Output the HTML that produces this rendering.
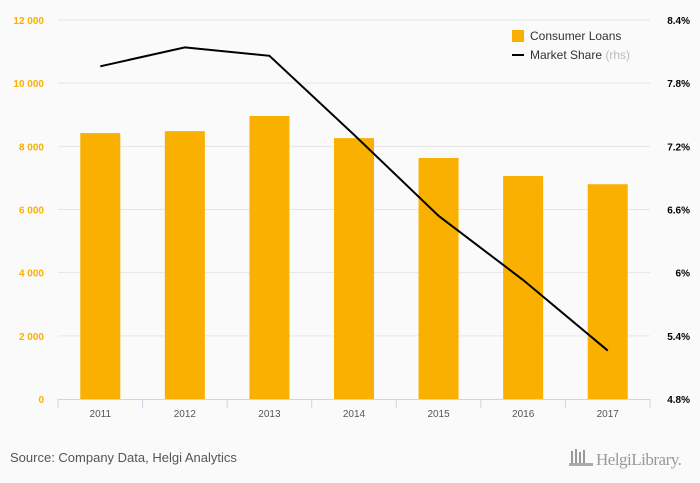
<!DOCTYPE html>
<html><head><meta charset="utf-8"><style>
body{margin:0;background:#fafafa;font-family:"Liberation Sans",sans-serif}
svg{display:block}
</style></head><body>
<svg id="c" width="700" height="483">
<text x="10" y="462" font-size="13" fill="#555">Source: Company Data, Helgi Analytics</text>
<g>
<rect x="571" y="451" width="2" height="12" fill="#999"/><rect x="575" y="449" width="2" height="14" fill="#999"/><rect x="579" y="452" width="2" height="11" fill="#999"/><rect x="583" y="450" width="2" height="13" fill="#999"/><rect x="569" y="463" width="24" height="3" fill="#aaa"/>
<text x="596" y="465" font-size="17" fill="#999" font-family="Liberation Serif, serif" letter-spacing="-0.5">HelgiLibrary.</text>
</g>
<g>
<rect x="512" y="30" width="12" height="12" fill="#f9b000"/>
<text x="530" y="40" font-size="12" fill="#333">Consumer Loans</text>
<rect x="512" y="54" width="12" height="2" fill="#000"/>
<text x="530" y="59" font-size="12" fill="#333">Market Share <tspan fill="#bbb">(rhs)</tspan></text>
</g>
</svg>
<script>
const categories=["2011","2012","2013","2014","2015","2016","2017"];
const loans=[8420,8480,8960,8260,7630,7060,6800];
const share=[7.96,8.14,8.06,7.31,6.54,5.93,5.26];
const leftTicks=[0,2000,4000,6000,8000,10000,12000];
const leftTickLabels=["0","2 000","4 000","6 000","8 000","10 000","12 000"];
const rightTicks=[4.8,5.4,6,6.6,7.2,7.8,8.4];
const rightTickLabels=["4.8%","5.4%","6%","6.6%","7.2%","7.8%","8.4%"];
const NS="http://www.w3.org/2000/svg",svg=document.getElementById("c");
const X0=58,X1=650,Y0=399,Y1=20;
const step=(X1-X0)/categories.length;
const xc=i=>X0+step*(i+0.5);
const yL=v=>Y0-(v/12000)*(Y0-Y1);
const yR=v=>Y0-((v-4.8)/3.6)*(Y0-Y1);
function mk(t,a,txt){const e=document.createElementNS(NS,t);for(const k in a)e.setAttribute(k,a[k]);if(txt!==undefined)e.textContent=txt;svg.appendChild(e);return e;}
leftTicks.forEach((v,i)=>{
 if(i>0){const g=mk("line",{x1:X0,x2:X1,y1:yL(v),y2:yL(v),stroke:"#e6e6e6"});
 
 }
 const t=mk("text",{x:44,y:yL(v)+4,"text-anchor":"end","font-size":"10",fill:"#f9b000","font-weight":"bold"},leftTickLabels[i]);
 
 
});
rightTicks.forEach((v,i)=>{
 const t=mk("text",{x:690,y:yR(v)+4,"text-anchor":"end","font-size":"10",fill:"#000","font-weight":"bold"},rightTickLabels[i]);
 
 
});
categories.forEach((c,i)=>{
 const b=mk("rect",{x:xc(i)-20,y:yL(loans[i]),width:40,height:Y0-yL(loans[i]),fill:"#f9b000"});
 
 
 const t=mk("text",{x:xc(i),y:417,"text-anchor":"middle","font-size":"10",fill:"#555"},c);
 
 
});
const ax=mk("line",{x1:X0,x2:X1,y1:Y0+0.5,y2:Y0+0.5,stroke:"#ccd6eb"});


for(let i=0;i<=categories.length;i++){
 const tk=mk("line",{x1:X0+step*i,x2:X0+step*i,y1:Y0,y2:Y0+9,stroke:"#ccd6eb"});
 
 
}
const p=mk("polyline",{points:share.map((v,i)=>xc(i)+","+yR(v)).join(" "),fill:"none",stroke:"#000","stroke-width":"2"});


</script>
</body></html>
